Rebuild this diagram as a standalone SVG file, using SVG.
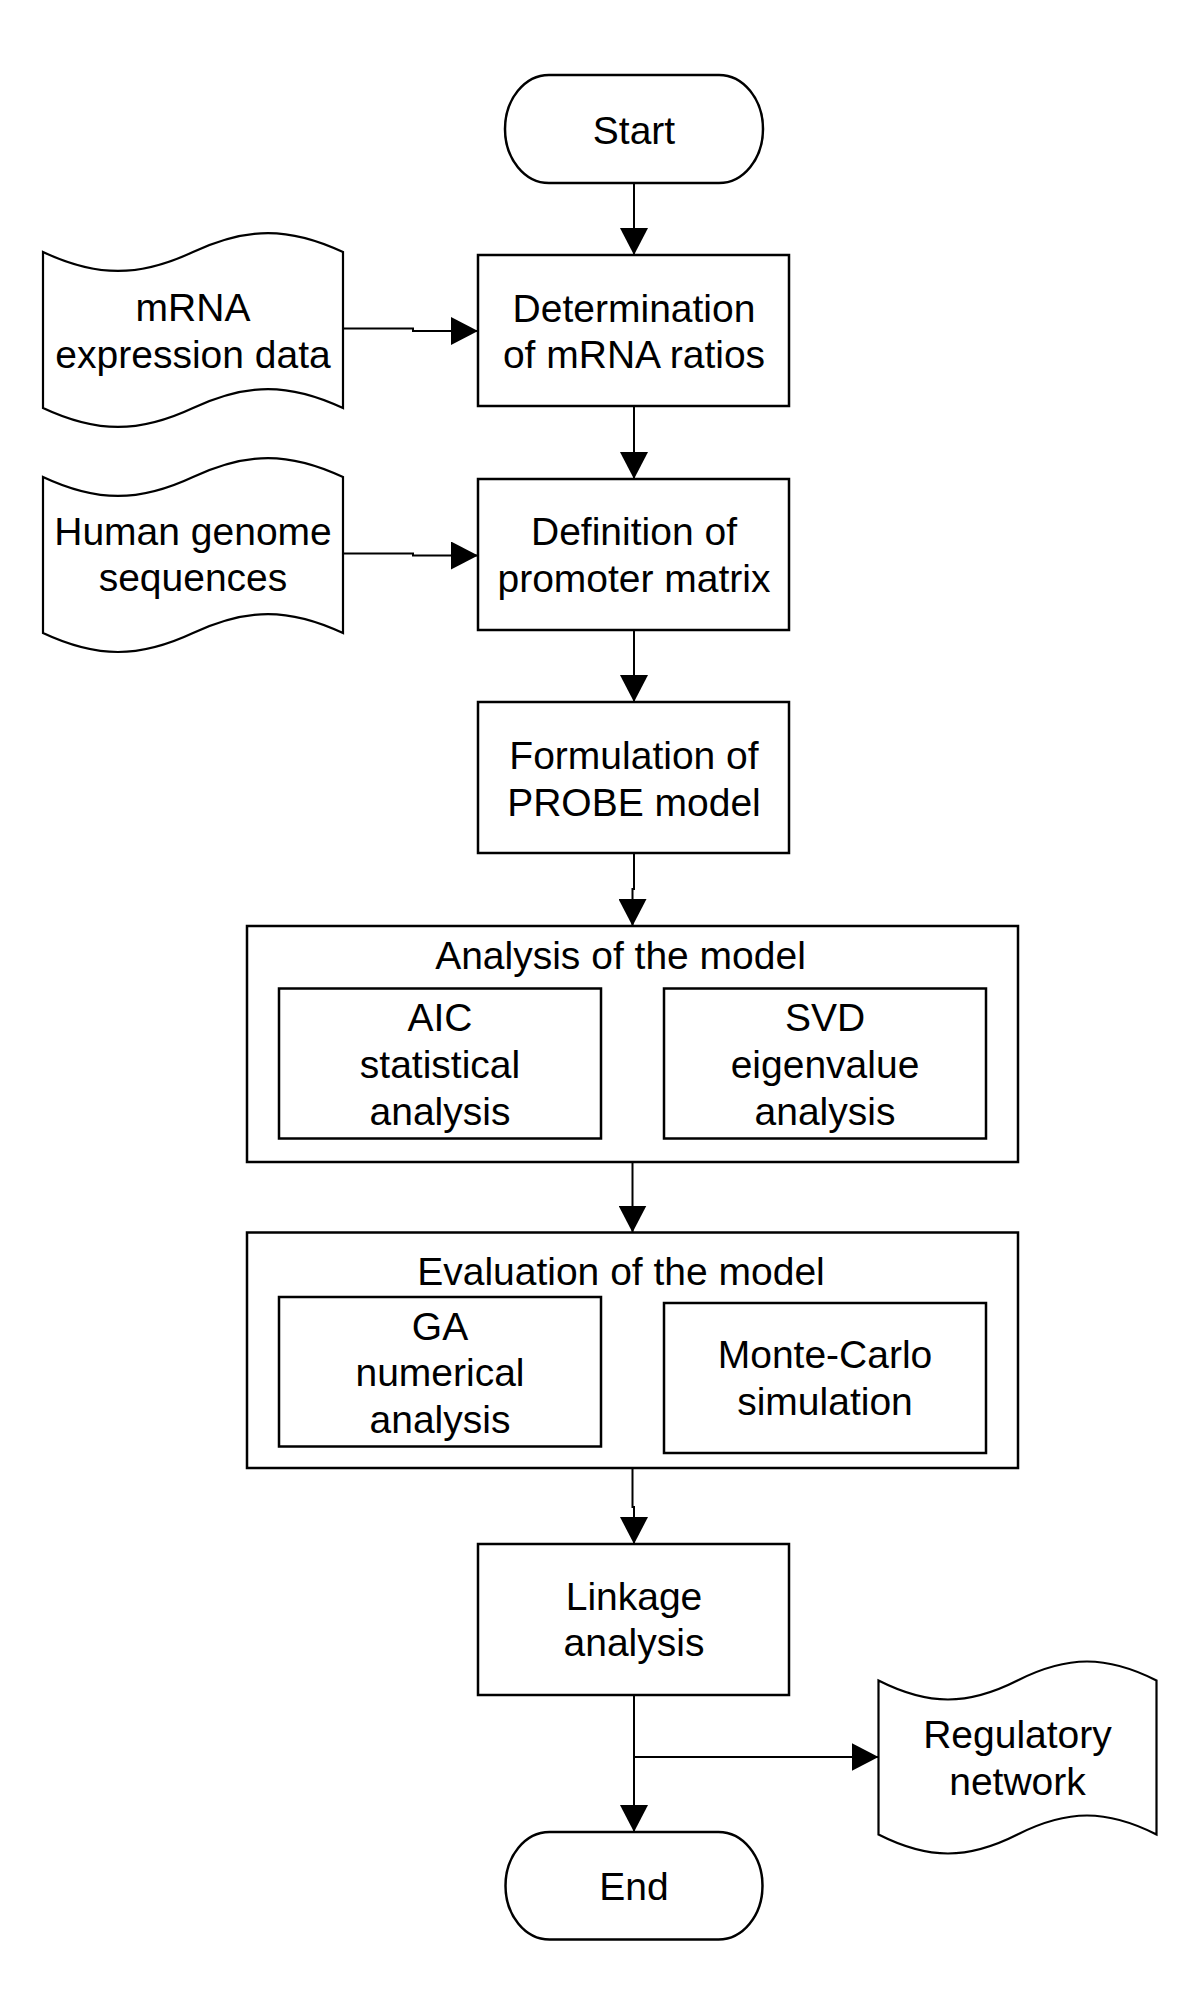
<svg xmlns="http://www.w3.org/2000/svg" width="1200" height="2005" viewBox="0 0 1200 2005">
<defs>
<marker id="arr" viewBox="0 0 27 28" refX="27" refY="14" markerWidth="27" markerHeight="28" markerUnits="userSpaceOnUse" orient="auto">
<path d="M0,0 L27,14 L0,28 Z" fill="#000"/>
</marker>
<style>
.box{fill:#fff;stroke:#000;stroke-width:2.5}
.doc{fill:#fff;stroke:#000;stroke-width:2.2}
.t{font-family:"Liberation Sans",Arial,sans-serif;font-size:39px;fill:#000;text-anchor:middle}
.c{fill:none;stroke:#000;stroke-width:2}
</style>
</defs>
<rect width="1200" height="2005" fill="#fff"/>
<g id="connectors">
<path class="c" d="M634,183 V255" marker-end="url(#arr)"/>
<path class="c" d="M343,328.5 H413 V331 H478" marker-end="url(#arr)"/>
<path class="c" d="M634,406 V479" marker-end="url(#arr)"/>
<path class="c" d="M343,553.5 H413 V555.5 H478" marker-end="url(#arr)"/>
<path class="c" d="M634,630 V702" marker-end="url(#arr)"/>
<path class="c" d="M634,853 V889 H632.5 V926" marker-end="url(#arr)"/>
<path class="c" d="M632.5,1162 V1232.5" marker-end="url(#arr)"/>
<path class="c" d="M632.5,1468 V1507 H634 V1544" marker-end="url(#arr)"/>
<path class="c" d="M634,1695 V1832" marker-end="url(#arr)"/>
<path class="c" d="M634,1757 H878.5" marker-end="url(#arr)"/>
</g>
<g id="start">
<rect class="box" x="505" y="75" width="258" height="108" rx="44" ry="54"/>
<text class="t" x="634" y="143.5">Start</text>
</g>
<g id="mrna-data">
<path class="doc" d="M43,252 C97,277.3 139,277.3 193,252 C247,226.7 289,226.7 343,252 L343,408 C289,382.7 247,382.7 193,408 C139,433.3 97,433.3 43,408 Z"/>
<text class="t" x="193" y="320.5">mRNA</text>
<text class="t" x="193" y="367.5">expression data</text>
</g>
<g id="determination">
<rect class="box" x="478" y="255" width="311" height="151"/>
<text class="t" x="634" y="321.5">Determination</text>
<text class="t" x="634" y="368">of mRNA ratios</text>
</g>
<g id="human-genome">
<path class="doc" d="M43,477 C97,502.3 139,502.3 193,477 C247,451.7 289,451.7 343,477 L343,633 C289,607.7 247,607.7 193,633 C139,658.3 97,658.3 43,633 Z"/>
<text class="t" x="193" y="545">Human genome</text>
<text class="t" x="193" y="591">sequences</text>
</g>
<g id="definition">
<rect class="box" x="478" y="479" width="311" height="151"/>
<text class="t" x="634" y="545">Definition of</text>
<text class="t" x="634" y="592">promoter matrix</text>
</g>
<g id="formulation">
<rect class="box" x="478" y="702" width="311" height="151"/>
<text class="t" x="634" y="769">Formulation of</text>
<text class="t" x="634" y="815.5">PROBE model</text>
</g>
<g id="analysis">
<rect class="box" x="247" y="926" width="771" height="236"/>
<text class="t" x="620.5" y="968.5">Analysis of the model</text>
</g>
<g id="aic">
<rect class="box" x="279" y="988.5" width="322" height="150"/>
<text class="t" x="440" y="1031">AIC</text>
<text class="t" x="440" y="1078">statistical</text>
<text class="t" x="440" y="1124.5">analysis</text>
</g>
<g id="svd">
<rect class="box" x="664" y="988.5" width="322" height="150"/>
<text class="t" x="825" y="1031">SVD</text>
<text class="t" x="825" y="1078">eigenvalue</text>
<text class="t" x="825" y="1124.5">analysis</text>
</g>
<g id="evaluation">
<rect class="box" x="247" y="1232.5" width="771" height="235.5"/>
<text class="t" x="621" y="1285">Evaluation of the model</text>
</g>
<g id="ga">
<rect class="box" x="279" y="1297" width="322" height="149.5"/>
<text class="t" x="440" y="1339.5">GA</text>
<text class="t" x="440" y="1386">numerical</text>
<text class="t" x="440" y="1433">analysis</text>
</g>
<g id="monte-carlo">
<rect class="box" x="664" y="1303" width="322" height="150"/>
<text class="t" x="825" y="1368">Monte-Carlo</text>
<text class="t" x="825" y="1414.5">simulation</text>
</g>
<g id="linkage">
<rect class="box" x="478" y="1544" width="311" height="151"/>
<text class="t" x="634" y="1609.5">Linkage</text>
<text class="t" x="634" y="1656">analysis</text>
</g>
<g id="regulatory-network">
<path class="doc" d="M878.5,1680.5 C928.5,1705.8 967.5,1705.8 1017.5,1680.5 C1067.5,1655.2 1106.5,1655.2 1156.5,1680.5 L1156.5,1834.5 C1106.5,1809.2 1067.5,1809.2 1017.5,1834.5 C967.5,1859.8 928.5,1859.8 878.5,1834.5 Z"/>
<text class="t" x="1017.5" y="1747.5">Regulatory</text>
<text class="t" x="1017.5" y="1795">network</text>
</g>
<g id="end">
<rect class="box" x="505.5" y="1832" width="257" height="107.5" rx="44" ry="54"/>
<text class="t" x="634" y="1900">End</text>
</g>
</svg>
